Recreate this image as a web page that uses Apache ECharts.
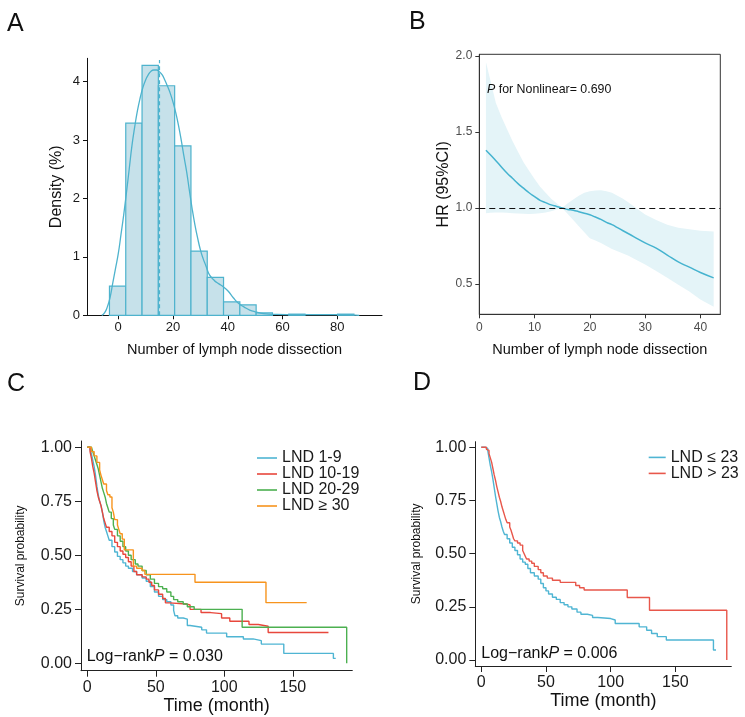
<!DOCTYPE html>
<html>
<head>
<meta charset="utf-8">
<title>Lymph node dissection figure</title>
<script src="https://cdn.jsdelivr.net/npm/echarts@6/dist/echarts.min.js"></script>
<style>
  html, body { margin: 0; padding: 0; background: #fff; }
  #chart { width: 745px; height: 717px; }
</style>
</head>
<body>
<div id="chart"></div>
<script>
// ---- Panel A: histogram (density %) + kernel density ----
const histEdges = [-3.2, 2.75, 8.7, 14.65, 20.6, 26.55, 32.5, 38.45, 44.4, 50.35, 56.3, 62.25, 68.2, 74.15, 80.1, 86.05]
const histDensity = [0.50, 3.29, 4.28, 3.93, 2.90, 1.10, 0.65, 0.23, 0.18, 0.04, 0, 0.02, 0, 0, 0.02]
const kdeX = [-6, -5, -4, -3, -2, -1, 0, 1, 2, 3, 4, 5, 6, 7, 8, 9, 10, 11, 12, 13, 14, 15, 16, 17, 18, 19, 20, 21, 22, 23, 24, 25, 26, 27, 28, 29, 30, 31, 32, 33, 34, 35, 36, 37, 38, 40, 42, 44, 46, 48, 50, 53, 58, 65, 75, 82, 88]
const kdeY = [0, 0.04, 0.14, 0.3, 0.55, 0.8, 1.05, 1.38, 1.72, 2.1, 2.5, 2.9, 3.22, 3.5, 3.72, 3.9, 4.03, 4.12, 4.18, 4.2, 4.2, 4.17, 4.12, 4.03, 3.92, 3.8, 3.65, 3.47, 3.25, 3.0, 2.72, 2.45, 2.13, 1.82, 1.55, 1.32, 1.12, 0.97, 0.85, 0.72, 0.65, 0.6, 0.56, 0.53, 0.5, 0.42, 0.3, 0.2, 0.14, 0.09, 0.06, 0.03, 0.015, 0.01, 0.01, 0.01, 0]
const medianLND = 14.8
const histXTicks = [0, 20, 40, 60, 80]
const histYTicks = [0, 1, 2, 3, 4]

// ---- Panel B: restricted cubic spline HR ----
const hrX = [1.2, 2, 3, 4, 5, 6, 7, 8, 9, 10, 11, 12, 13, 14, 15, 16, 17, 18, 19, 20, 21, 22, 23, 24, 25, 26, 27, 28, 30, 32, 34, 36, 38, 40, 42.4]
const hrFit = [1.38, 1.35, 1.31, 1.27, 1.23, 1.195, 1.16, 1.13, 1.10, 1.075, 1.05, 1.035, 1.02, 1.01, 1.0, 0.99, 0.985, 0.975, 0.965, 0.955, 0.94, 0.925, 0.905, 0.89, 0.87, 0.85, 0.83, 0.81, 0.77, 0.735, 0.69, 0.645, 0.61, 0.575, 0.54]
const ciUpper = [1.96, 1.84, 1.69, 1.60, 1.52, 1.44, 1.37, 1.30, 1.245, 1.19, 1.14, 1.10, 1.06, 1.03, 1.0, 1.03, 1.055, 1.08, 1.10, 1.11, 1.115, 1.116, 1.11, 1.10, 1.08, 1.06, 1.035, 1.01, 0.956, 0.92, 0.89, 0.87, 0.86, 0.85, 0.845]
const ciLower = [0.965, 0.968, 0.97, 0.97, 0.968, 0.965, 0.963, 0.962, 0.96, 0.962, 0.965, 0.97, 0.978, 0.99, 1.0, 0.96, 0.92, 0.88, 0.84, 0.80, 0.785, 0.77, 0.75, 0.73, 0.715, 0.70, 0.685, 0.665, 0.627, 0.585, 0.54, 0.495, 0.45, 0.397, 0.349]
const hrXTicks = [0, 10, 20, 30, 40]
const hrYTicks = [0.5, 1.0, 1.5, 2.0]

// ---- Panel C: KM by four LND groups ----
const lnd1to9Time = [0, 2, 3, 4, 5, 6, 7, 8, 9, 10, 11, 12, 13, 14, 15, 16, 18, 20, 22, 24, 26, 28, 30, 33, 36, 40, 43, 46, 49, 52, 55, 58, 61, 63, 64, 66, 70, 73, 75, 83.5, 87, 101.7, 113.9, 121, 127, 143.4, 179.6, 181.3]
const lnd1to9Surv = [1, 0.99, 0.97, 0.94, 0.91, 0.87, 0.82, 0.78, 0.75, 0.73, 0.70, 0.66, 0.63, 0.61, 0.59, 0.57, 0.54, 0.515, 0.495, 0.48, 0.465, 0.45, 0.44, 0.425, 0.41, 0.395, 0.38, 0.355, 0.33, 0.31, 0.295, 0.285, 0.27, 0.245, 0.22, 0.21, 0.205, 0.175, 0.167, 0.155, 0.14, 0.123, 0.113, 0.105, 0.089, 0.046, 0.023, 0.023]
const lnd10to19Time = [0, 2, 3, 4, 5, 6, 7, 8, 9, 10, 11, 12, 13, 14, 16, 18, 20, 22, 24, 26, 28, 30, 32, 34, 36, 40, 43, 45, 47, 49, 52, 55, 57, 60, 72, 75, 83, 90, 98, 104, 118, 124.8, 132, 176]
const lnd10to19Surv = [1, 0.98, 0.95, 0.91, 0.88, 0.84, 0.80, 0.77, 0.75, 0.73, 0.70, 0.67, 0.65, 0.63, 0.61, 0.59, 0.56, 0.54, 0.52, 0.505, 0.49, 0.47, 0.45, 0.425, 0.41, 0.40, 0.39, 0.375, 0.36, 0.34, 0.32, 0.30, 0.28, 0.275, 0.27, 0.25, 0.235, 0.23, 0.21, 0.195, 0.18, 0.172, 0.143, 0.143]
const lnd20to29Time = [0, 3, 4, 5, 6, 7, 8, 9, 10, 11, 12, 13, 14, 15, 16, 17.5, 19, 20, 22, 24, 26, 28, 30, 32, 35, 37, 40, 43, 46, 49, 52, 55, 58, 61, 63, 66, 70, 73, 78, 113, 189.3]
const lnd20to29Surv = [1, 1, 0.98, 0.96, 0.94, 0.92, 0.90, 0.87, 0.84, 0.81, 0.79, 0.77, 0.74, 0.72, 0.70, 0.67, 0.64, 0.62, 0.59, 0.565, 0.54, 0.52, 0.50, 0.48, 0.46, 0.45, 0.43, 0.41, 0.39, 0.37, 0.355, 0.345, 0.33, 0.31, 0.295, 0.285, 0.275, 0.262, 0.25, 0.167, 0]
const lnd30plusTime = [0, 3, 5, 7, 9, 10, 11, 12, 14, 15, 16.5, 18, 19, 20, 22, 23, 24, 25.5, 27, 33.6, 36, 40, 42, 78.6, 130.4, 160.1]
const lnd30plusSurv = [1, 0.98, 0.96, 0.93, 0.895, 0.87, 0.85, 0.83, 0.80, 0.78, 0.77, 0.72, 0.70, 0.665, 0.64, 0.62, 0.60, 0.575, 0.525, 0.45, 0.44, 0.43, 0.412, 0.375, 0.281, 0.281]

// ---- Panel D: KM by LND cut-off 23 ----
const lndLowTime = [0, 3, 5, 6, 7, 8, 9, 10, 11, 12, 13, 14, 15, 16, 17, 18, 20, 22, 24, 26, 28, 30, 32, 34, 36, 38, 41, 44, 46, 48, 50, 52, 55, 58, 61, 64, 67, 70, 74, 77, 82, 86, 90, 100, 103.5, 122, 127.8, 131.6, 136, 143, 179.4, 181.4]
const lndLowSurv = [1, 0.995, 0.985, 0.95, 0.915, 0.885, 0.85, 0.81, 0.77, 0.735, 0.70, 0.67, 0.65, 0.625, 0.605, 0.59, 0.57, 0.55, 0.53, 0.515, 0.495, 0.475, 0.46, 0.45, 0.43, 0.41, 0.395, 0.38, 0.36, 0.34, 0.325, 0.31, 0.295, 0.285, 0.27, 0.26, 0.25, 0.24, 0.225, 0.215, 0.21, 0.2, 0.195, 0.188, 0.172, 0.156, 0.14, 0.125, 0.11, 0.094, 0.047, 0.047]
const lndHighTime = [0, 4, 5, 6, 7, 8, 9, 10, 11, 12, 13, 14, 15, 16, 17, 18, 19, 20, 22, 23, 24, 25, 26, 28, 30, 32, 33.5, 35, 37, 39, 41, 44, 46, 48, 51, 55, 61, 73, 76, 79.5, 112.8, 130, 189.7]
const lndHighSurv = [1, 0.99, 0.985, 0.97, 0.95, 0.93, 0.90, 0.87, 0.845, 0.815, 0.79, 0.765, 0.745, 0.72, 0.70, 0.68, 0.66, 0.645, 0.625, 0.61, 0.59, 0.57, 0.56, 0.55, 0.54, 0.515, 0.495, 0.475, 0.465, 0.455, 0.44, 0.425, 0.41, 0.395, 0.385, 0.375, 0.365, 0.35, 0.34, 0.329, 0.294, 0.234, 0]

const kmXTicks = [0, 50, 100, 150]
const kmYTicks = [0, 0.25, 0.5, 0.75, 1]

const FONT = '"Liberation Sans", Arial, Helvetica, sans-serif'
const HIST_BLUE = '#4eb3cd'
const KM_BLUE = '#4fb5d3'
const KM_RED = '#e8473c'
const KM_GREEN = '#4cb050'
const KM_ORANGE = '#f7941d'

const zip = (xs, ys) => xs.map((x, i) => [x, ys[i]])

// shared axis builder: ticks/labels at fixed values, no split lines
function axis(grid, min, max, ticks, opts) {
  return {
    type: 'value',
    gridIndex: grid,
    min, max,
    splitLine: { show: false },
    axisLine: { show: true, onZero: false, lineStyle: { color: opts.lineColor || '#111', width: 1 } },
    axisTick: { show: true, customValues: ticks, length: opts.tickLen || 4, lineStyle: { color: opts.lineColor || '#111' } },
    axisLabel: {
      customValues: ticks,
      fontSize: opts.fontSize,
      color: opts.labelColor || '#1a1a1a',
      margin: opts.margin,
      fontFamily: FONT,
      formatter: opts.fmt || (v => String(v))
    },
    name: opts.name,
    nameLocation: 'middle',
    nameGap: opts.nameGap,
    nameTextStyle: { fontSize: opts.nameSize, color: '#111', fontFamily: FONT }
  }
}

function km(name, time, surv, color, grid) {
  return {
    name,
    type: 'line',
    xAxisIndex: grid, yAxisIndex: grid,
    step: 'end',
    showSymbol: false,
    symbol: 'none',
    data: zip(time, surv),
    lineStyle: { color, width: 1.4 },
    itemStyle: { color },
    z: 3
  }
}

function label(x, y, text, size, rich) {
  const style = {
    text, fontSize: size, fontFamily: FONT, fill: '#111',
    verticalAlign: 'middle', textVerticalAlign: 'middle'
  }
  if (rich) style.rich = { i: { fontStyle: 'italic', fontSize: size, fontFamily: FONT, fill: '#111' } }
  return { type: 'text', x, y, z: 100, style }
}

const chart = echarts.init(document.getElementById('chart'), null, { renderer: 'canvas' })

chart.setOption({
  animation: false,
  backgroundColor: '#fff',
  textStyle: { fontFamily: FONT },
  grid: [
    { left: 87, top: 58.3, width: 295, height: 257 },
    { left: 479.3, top: 54.3, width: 241, height: 260, show: true, borderColor: '#333', borderWidth: 1, backgroundColor: 'transparent' },
    { left: 81, top: 441, width: 271.3, height: 229.7 },
    { left: 475.3, top: 441.7, width: 256, height: 224.3 }
  ],
  xAxis: [
    axis(0, -11.4, 96.3, histXTicks, { fontSize: 13, margin: 6, name: 'Number of lymph node dissection', nameGap: 27, nameSize: 14.5 }),
    axis(1, 0, 43.6, hrXTicks, { fontSize: 12, margin: 7, labelColor: '#4d4d4d', lineColor: '#333', name: 'Number of lymph node dissection', nameGap: 28, nameSize: 14.5 }),
    axis(2, -4.6, 193.4, kmXTicks, { fontSize: 16, margin: 9, tickLen: 6, lineColor: '#222', name: 'Time (month)', nameGap: 23, nameSize: 18 }),
    axis(3, -4.6, 193.2, kmXTicks, { fontSize: 16, margin: 9, tickLen: 6, lineColor: '#222', name: 'Time (month)', nameGap: 21, nameSize: 18 })
  ],
  yAxis: [
    axis(0, 0, 4.4, histYTicks, { fontSize: 13, margin: 7, name: 'Density (%)', nameGap: 22, nameSize: 16 }),
    axis(1, 0.3, 2.011, hrYTicks, { fontSize: 12, margin: 7, labelColor: '#4d4d4d', lineColor: '#333', fmt: v => v.toFixed(1), name: 'HR (95%CI)', nameGap: 25, nameSize: 16 }),
    axis(2, -0.034, 1.029, kmYTicks, { fontSize: 16, margin: 9, tickLen: 6, lineColor: '#222', fmt: v => v.toFixed(2), name: 'Survival probability', nameGap: 54, nameSize: 12 }),
    axis(3, -0.028, 1.026, kmYTicks, { fontSize: 16, margin: 9, tickLen: 6, lineColor: '#222', fmt: v => v.toFixed(2), name: 'Survival probability', nameGap: 53, nameSize: 12 })
  ],
  legend: [
    {
      data: ['LND 1-9', 'LND 10-19', 'LND 20-29', 'LND ≥ 30'],
      orient: 'vertical', left: 257, top: 450, padding: 0,
      icon: 'rect', itemWidth: 20, itemHeight: 1.6, itemGap: 0,
      textStyle: { fontSize: 16, lineHeight: 13.3, color: '#1a1a1a', fontFamily: FONT }
    },
    {
      data: ['LND ≤ 23', 'LND > 23'],
      orient: 'vertical', left: 648.7, top: 449.4, padding: 0,
      icon: 'rect', itemWidth: 17, itemHeight: 1.6, itemGap: 0,
      textStyle: { fontSize: 16, lineHeight: 12.6, color: '#1a1a1a', fontFamily: FONT }
    }
  ],
  graphic: [
    label(7, 24, 'A', 25),
    label(409, 22.5, 'B', 25),
    label(7, 384, 'C', 25),
    label(413, 383, 'D', 25),
    label(487, 90, '{i|P} for Nonlinear= 0.690', 12.4, true),
    label(86.7, 656.5, 'Log−rank{i|P} = 0.030', 16, true),
    label(481.3, 653.5, 'Log−rank{i|P} = 0.006', 16, true)
  ],
  series: [
    // A: histogram bars, one rect per bin from the edges
    {
      type: 'custom',
      xAxisIndex: 0, yAxisIndex: 0,
      data: histDensity.map((d, i) => [histEdges[i], histEdges[i + 1], d]),
      encode: { x: [0, 1], y: 2 },
      renderItem: (params, api) => {
        const h = api.value(2)
        if (!h) return null
        const p0 = api.coord([api.value(0), h])
        const p1 = api.coord([api.value(1), 0])
        return {
          type: 'rect',
          shape: { x: p0[0], y: p0[1], width: p1[0] - p0[0], height: p1[1] - p0[1] },
          style: { fill: '#c6e1ea', stroke: HIST_BLUE, lineWidth: 1.2 }
        }
      },
      z: 1
    },
    {
      type: 'line',
      xAxisIndex: 0, yAxisIndex: 0,
      data: zip(kdeX, kdeY),
      smooth: true,
      showSymbol: false, symbol: 'none',
      lineStyle: { color: HIST_BLUE, width: 1.3 },
      z: 3,
      markLine: {
        silent: true, symbol: 'none', label: { show: false },
        lineStyle: { color: HIST_BLUE, type: [4, 3], width: 1.2 },
        data: [[{ coord: [medianLND, 0] }, { coord: [medianLND, 4.37] }]]
      }
    },
    // B: confidence band drawn as a polygon through the axis scales
    {
      type: 'custom',
      xAxisIndex: 1, yAxisIndex: 1,
      data: [[hrX[0], ciLower[0]]],
      silent: true,
      renderItem: (params, api) => {
        const top = hrX.map((x, i) => api.coord([x, ciUpper[i]]))
        const bottom = hrX.map((x, i) => api.coord([x, ciLower[i]])).reverse()
        return {
          type: 'polygon',
          shape: { points: top.concat(bottom) },
          style: { fill: '#e4f4f8', stroke: 'none' }
        }
      },
      z: 1
    },
    {
      type: 'line',
      xAxisIndex: 1, yAxisIndex: 1,
      data: zip(hrX, hrFit),
      smooth: true,
      showSymbol: false, symbol: 'none',
      lineStyle: { color: '#45b3cf', width: 1.5 },
      z: 3,
      markLine: {
        silent: true, symbol: 'none', label: { show: false },
        lineStyle: { color: '#111', type: [6, 4], width: 1.2 },
        data: [{ yAxis: 1 }]
      }
    },
    // C
    km('LND 1-9', lnd1to9Time, lnd1to9Surv, KM_BLUE, 2),
    km('LND 10-19', lnd10to19Time, lnd10to19Surv, KM_RED, 2),
    km('LND 20-29', lnd20to29Time, lnd20to29Surv, KM_GREEN, 2),
    km('LND ≥ 30', lnd30plusTime, lnd30plusSurv, KM_ORANGE, 2),
    // D
    km('LND ≤ 23', lndLowTime, lndLowSurv, KM_BLUE, 3),
    km('LND > 23', lndHighTime, lndHighSurv, '#e8574b', 3)
  ]
})
</script>
</body>
</html>
